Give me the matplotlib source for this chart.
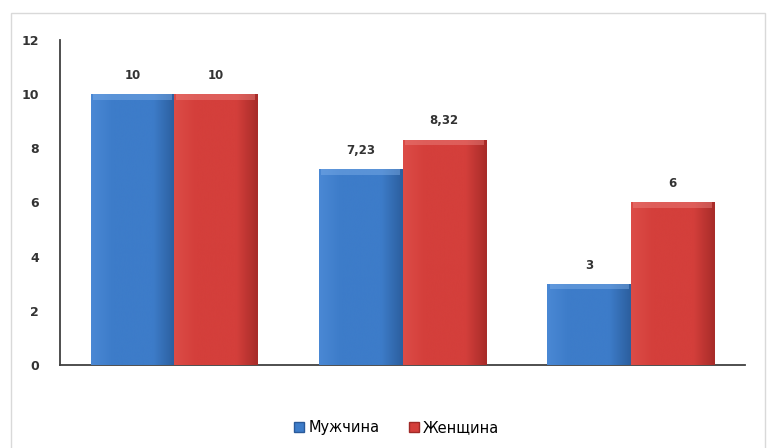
import numpy as np
import matplotlib
matplotlib.use("Agg")
import matplotlib.pyplot as plt
from matplotlib.colors import LinearSegmentedColormap
from matplotlib.patches import Rectangle, Patch

groups = ["1", "2", "3"]
men = [10, 7.23, 3]
women = [10, 8.32, 6]
series_names = ["Мужчина", "Женщина"]
yticks = [0, 2, 4, 6, 8, 10, 12]

BLUE = "#3d7cc9"
RED = "#d43f3b"
AXIS = "#404040"

fig = plt.figure(figsize=(7.7, 4.48), dpi=100)
fig.patch.set_facecolor("white")
ax = fig.add_axes([0.078, 0.185, 0.8895, 0.726])

x = np.arange(len(groups))
w = 0.365
b1 = ax.bar(x - w / 2, men, w, color=BLUE, zorder=2)
b2 = ax.bar(x + w / 2, women, w, color=RED, zorder=2)

# excel-like bevel shading on top of each bar
def shade(bars, light, mid, dark, top):
    cmap = LinearSegmentedColormap.from_list("s", [light, mid, mid, mid, dark])
    grad = np.linspace(0, 1, 64).reshape(1, -1)
    for p in bars:
        x0, y0 = p.get_x(), p.get_y()
        bw, bh = p.get_width(), p.get_height()
        im = ax.imshow(grad, cmap=cmap, aspect="auto", zorder=3,
                       extent=[x0, x0 + bw, y0, y0 + bh], interpolation="bicubic")
        im.set_clip_path(p)
        # top bevel strip
        ax.add_patch(Rectangle((x0 + 0.01, y0 + bh - 0.2), bw - 0.02, 0.2, color=top,
                               alpha=0.45, lw=0, zorder=4))

shade(b1, "#4a88d4", "#3d7cc9", "#2c5f9f", "#7fb0ea")
shade(b2, "#dc4c47", "#d43f3b", "#a82c29", "#ec8581")

for bars, vals in ((b1, men), (b2, women)):
    for p, v in zip(bars, vals):
        lab = f"{v:g}".replace(".", ",")
        ax.text(p.get_x() + p.get_width() / 2, v + 0.45, lab, ha="center",
                va="bottom", fontsize=8.5, fontweight="bold", color="#333333")

ax.set_xlim(-0.5, len(groups) - 0.5)
ax.set_ylim(0, 12)
ax.set_yticks(yticks)
ax.set_yticklabels([str(t) for t in yticks], fontsize=9, fontweight="bold",
                   color="#333333")
ax.tick_params(axis="y", length=0, pad=15)
ax.set_xticks([])
for s in ("top", "right"):
    ax.spines[s].set_visible(False)
for s in ("left", "bottom"):
    ax.spines[s].set_color(AXIS)
    ax.spines[s].set_linewidth(1.3)

handles = [Patch(facecolor=BLUE, edgecolor="#2a5a9a"), Patch(facecolor=RED, edgecolor="#a02a27")]
fig.legend(handles, series_names, loc="center", bbox_to_anchor=(0.515, 0.045),
           ncol=2, frameon=False, fontsize=10.5, handlelength=0.7, handleheight=0.7,
           handletextpad=0.3, columnspacing=2.0)

fig.add_artist(Rectangle((0.014, -0.01), 0.98, 0.98, transform=fig.transFigure,
                         fill=False, edgecolor="#d9d9d9", lw=1))

fig.savefig("out.png", dpi=100, facecolor="white")
